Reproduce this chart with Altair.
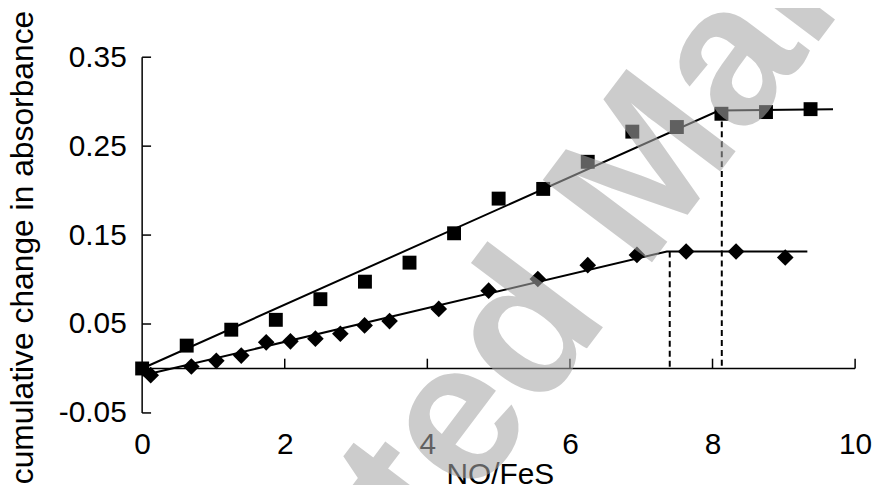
import altair as alt
import pandas as pd

# ---- data ----
sq_x = [0, 0.625, 1.25, 1.875, 2.5, 3.125, 3.75, 4.375, 5.0, 5.625, 6.25, 6.875, 7.5, 8.125, 8.75, 9.375]
sq_y = [0.0, 0.0257, 0.0436, 0.0547, 0.0779, 0.0976, 0.119, 0.152, 0.191, 0.2019, 0.2324, 0.2663, 0.2715, 0.2864, 0.2883, 0.2916]

di_x = [0.12, 0.69, 1.04, 1.39, 1.74, 2.08, 2.43, 2.78, 3.12, 3.47, 4.16, 4.86, 5.55, 6.25, 6.94, 7.63, 8.33, 9.02]
di_y = [-0.0075, 0.0022, 0.0086, 0.0145, 0.0294, 0.0305, 0.0335, 0.0391, 0.0484, 0.0533, 0.067, 0.0875, 0.1006, 0.1162, 0.1277, 0.1315, 0.1315, 0.1248]

sq_fit_x = [0, 8.09, 9.69]
sq_fit_y = [0.0, 0.290, 0.2915]
di_fit_x = [0, 7.36, 9.33]
di_fit_y = [-0.008, 0.1316, 0.1316]

drop_x = [7.40, 8.13]
drop_y = [0.1316, 0.289]

x_ticks = [0, 2, 4, 6, 8, 10]
y_ticks = [-0.05, 0.05, 0.15, 0.25, 0.35]

FONT = "Liberation Sans"

xs = alt.Scale(domain=[0, 10], nice=False, zero=False)
ys = alt.Scale(domain=[-0.05, 0.35], nice=False, zero=False)

sq_df = pd.DataFrame({"x": sq_x, "y": sq_y})
di_df = pd.DataFrame({"x": di_x, "y": di_y})
fit_df = pd.DataFrame({
    "x": sq_fit_x + di_fit_x,
    "y": sq_fit_y + di_fit_y,
    "s": ["sq"] * len(sq_fit_x) + ["di"] * len(di_fit_x),
})
drop_df = pd.DataFrame({"x": drop_x, "y": drop_y, "y0": [0.0, 0.0]})
xt_df = pd.DataFrame({"x": x_ticks[1:], "y0": [0.0] * 5, "y1": [0.011] * 5})
yt_df = pd.DataFrame({"y": y_ticks, "x0": [0.0] * 5, "x1": [0.125] * 5})

x_axis = alt.Axis(values=x_ticks, format="d", domain=False, ticks=False, tickSize=0, grid=False,
                  labelFlush=False, labelOverlap=False,
                  labelFont=FONT, labelFontSize=30, labelColor="black", labelPadding=17,
                  title="NO/FeS", titleFont=FONT, titleFontSize=30, titleFontWeight="normal",
                  titleColor="black", titleX=360, titleY=71, titleAlign="center",
                  titleBaseline="alphabetic")
y_axis = alt.Axis(values=y_ticks, domain=False, ticks=False, tickSize=0, grid=False,
                  labelFlush=False, labelOverlap=False,
                  labelExpr="datum.value < 0 ? '-' + format(-datum.value, '.2f') : format(datum.value, '.2f')",
                  labelFont=FONT, labelFontSize=30, labelColor="black", labelPadding=16,
                  title="cumulative change in absorbance", titleFont=FONT, titleFontSize=32,
                  titleFontWeight="normal", titleColor="black", titleAngle=270,
                  titleX=-110, titleY=191, titleAlign="center", titleBaseline="alphabetic")

X = lambda f: alt.X(f, scale=xs, title="")
Y = lambda f: alt.Y(f, scale=ys, title="")

base_axes = alt.Chart(pd.DataFrame({"x": [0.0], "x2": [10.0], "y": [0.0]})).mark_rule(
    color="black", strokeWidth=1.5
).encode(
    x=alt.X("x:Q", scale=xs, axis=x_axis),
    x2="x2:Q",
    y=alt.Y("y:Q", scale=ys, axis=y_axis),
)
yaxis_line = alt.Chart(pd.DataFrame({"x": [0.0], "y": [-0.05], "y2": [0.35]})).mark_rule(
    color="black", strokeWidth=1.5
).encode(x=X("x:Q"), y=Y("y:Q"), y2="y2:Q")

xticks = alt.Chart(xt_df).mark_rule(color="black", strokeWidth=1.5).encode(
    x=X("x:Q"), y=Y("y0:Q"), y2="y1:Q")
yticks = alt.Chart(yt_df).mark_rule(color="black", strokeWidth=1.5).encode(
    y=Y("y:Q"), x=X("x0:Q"), x2="x1:Q")

fits = alt.Chart(fit_df).mark_line(color="black", strokeWidth=2).encode(
    x=X("x:Q"), y=Y("y:Q"), detail="s:N")

drops = alt.Chart(drop_df).mark_rule(color="black", strokeWidth=2, strokeDash=[6, 4]).encode(
    x=X("x:Q"), y=Y("y:Q"), y2="y0:Q")

squares = alt.Chart(sq_df).mark_point(shape="square", filled=True, color="black", size=196, opacity=1).encode(
    x=X("x:Q"), y=Y("y:Q"))
diamonds = alt.Chart(di_df).mark_point(shape="diamond", filled=True, color="black", size=280, opacity=1).encode(
    x=X("x:Q"), y=Y("y:Q"))

watermark = alt.Chart(pd.DataFrame({"t": ["Accepted Manuscript"]})).mark_text(
    font=FONT, fontSize=200, fontWeight="bold", angle=307, align="center", baseline="alphabetic",
    color="#a7a7a7", opacity=0.576
).encode(text="t:N", x=alt.value(538.5), y=alt.value(172.6))

chart = alt.layer(base_axes, yaxis_line, xticks, yticks, fits, drops, squares, diamonds, watermark).properties(
    width=717.5, height=358,
    autosize=alt.AutoSizeParams(type="none"),
    padding={"left": 135, "top": 48, "right": 18, "bottom": 71},
).configure_view(stroke=None).configure_axis(grid=False, domain=False, ticks=False)

chart.save("out.html", embed_options={"renderer": "svg", "actions": False})
